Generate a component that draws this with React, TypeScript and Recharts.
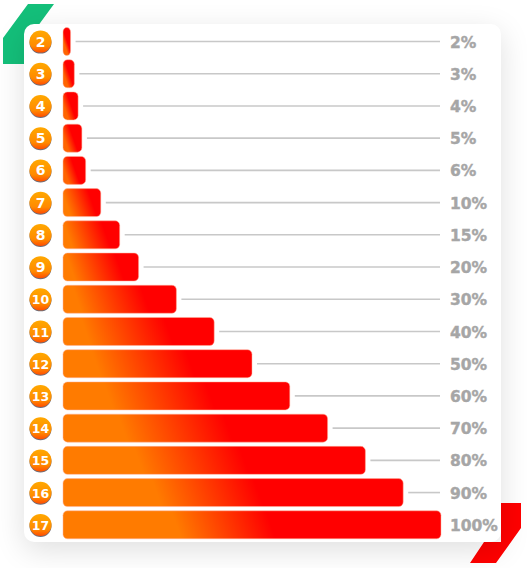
import React from "react";
import { BarChart, Bar, XAxis, YAxis } from "recharts";

const levels = [2, 3, 4, 5, 6, 7, 8, 9, 10, 11, 12, 13, 14, 15, 16, 17];
const percents = [2, 3, 4, 5, 6, 10, 15, 20, 30, 40, 50, 60, 70, 80, 90, 100];

const rows = levels.map((level, i) => ({
  level,
  percent: percents[i],
  label: percents[i] + "%",
}));

const LINE_END = 440;
const FULL_WIDTH = 378;
const SLANT = 0.35;

// each bar gets its own gradient so the slant stays the same on short and long bars
const BarWithLine = (props: any) => {
  const { x, y, width, height, index } = props;
  const mid = y + height / 2;
  const share = width / FULL_WIDTH;
  const orangeStop = 0.05 + 0.25 * share;
  const redStop = width < 30 ? 0.55 : 0.8 - 0.25 * share;
  const len = width / (1 + SLANT * SLANT);
  const id = `barFill${index}`;
  return (
    <g>
      <defs>
        <linearGradient id={id} gradientUnits="userSpaceOnUse" x1={x} y1={mid} x2={x + len} y2={mid - len * SLANT}>
          <stop offset={orangeStop} stopColor={width < 30 ? "#ff6400" : "#ff7b00"} />
          <stop offset={redStop} stopColor="#ff0000" />
        </linearGradient>
      </defs>
      {x + width + 5 < LINE_END && (
        <line x1={x + width + 5} x2={LINE_END} y1={mid} y2={mid} stroke="#c8c8c8" strokeWidth={1.6} />
      )}
      <rect x={x} y={y} width={width} height={height} rx={4.5} fill={`url(#${id})`} stroke="#ffb09a" strokeWidth={0.5} />
    </g>
  );
};

const LevelTick = (props: any) => {
  const { y, payload } = props;
  return (
    <g>
      <circle cx={40.5} cy={y + 1} r={11} fill="#6e6e78" />
      <circle cx={40.5} cy={y} r={11} fill="url(#badgeFill)" />
      <text x={40.5} y={y + 5} textAnchor="middle" fill="#fff" fontFamily="DejaVu Sans" fontWeight={700} fontSize={payload.value > 9 ? 12.5 : 14}>
        {payload.value}
      </text>
    </g>
  );
};

const PercentTick = (props: any) => {
  const { y, payload } = props;
  return (
    <text x={450} y={y + 6} fill="#a6a6a6" stroke="#a6a6a6" strokeWidth={0.4} fontFamily="DejaVu Sans" fontWeight={700} fontSize={15.5}>
      {payload.value}
    </text>
  );
};

export default function App() {
  return (
    <div style={{ position: "absolute", left: 0, top: 0, width: 527, height: 568, background: "#fff", overflow: "hidden" }}>
      <svg width={527} height={568} style={{ position: "absolute", left: 0, top: 0 }}>
        <polygon points="3,38 28,4 54,4 24,45 24,64 3,64" fill="#14bf7a" />
        <polygon points="501,503 521,503 521,528 496,563 470,563 484,542 501,542" fill="#ff0000" />
      </svg>
      <div
        style={{
          position: "absolute",
          left: 24,
          top: 24,
          width: 477,
          height: 518,
          borderRadius: 10,
          background: "#fff",
          boxShadow: "0 8px 30px rgba(0,0,0,0.13)",
        }}
      />
      <div style={{ position: "absolute", left: 0, top: 0 }}>
        <BarChart
          width={527}
          height={568}
          data={rows}
          layout="vertical"
          barSize={28}
          margin={{ top: 25.5, right: 0, bottom: 27, left: 0 }}
        >
          <defs>
            <linearGradient id="badgeFill" x1="0" y1="0" x2="0" y2="1">
              <stop offset="0" stopColor="#ffa800" />
              <stop offset="0.7" stopColor="#ff8a00" />
              <stop offset="1" stopColor="#ff4d00" />
            </linearGradient>
          </defs>
          <XAxis type="number" domain={[0, 100]} hide />
          <YAxis
            yAxisId="level"
            type="category"
            dataKey="level"
            width={63}
            axisLine={false}
            tickLine={false}
            interval={0}
            tick={<LevelTick />}
          />
          <YAxis
            yAxisId="percent"
            type="category"
            dataKey="label"
            orientation="right"
            width={86}
            axisLine={false}
            tickLine={false}
            interval={0}
            tick={<PercentTick />}
          />
          <Bar yAxisId="level" dataKey="percent" shape={<BarWithLine />} isAnimationActive={false} />
        </BarChart>
      </div>
    </div>
  );
}
